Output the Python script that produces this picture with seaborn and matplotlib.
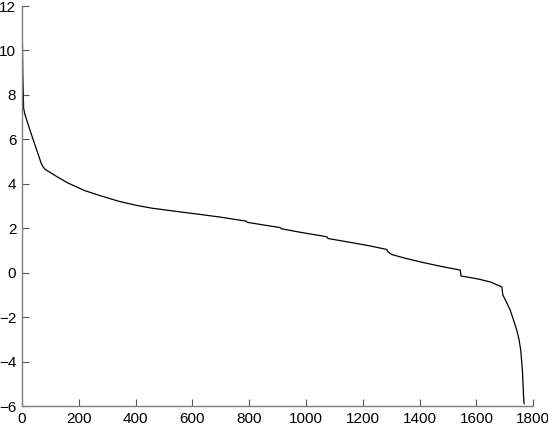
import numpy as np
import pandas as pd
import matplotlib
matplotlib.use("Agg")
import matplotlib.pyplot as plt
import seaborn as sns

# values (sorted curve)
rank = [0, 1, 3, 6, 10, 30, 50, 68, 75, 82, 95, 120, 160, 220, 280, 340, 400, 460, 520,
        580, 630, 700, 790, 793, 850, 910, 913, 980, 1073, 1078, 1150, 1220, 1284,
        1288, 1302, 1350, 1402, 1470, 1543, 1546, 1580, 1613, 1650, 1690, 1693,
        1705, 1719, 1730, 1742, 1750, 1756, 1762, 1766, 1768]
value = [11.4, 11.0, 9.0, 7.4, 7.15, 6.35, 5.6, 4.92, 4.75, 4.65, 4.55, 4.35, 4.05,
         3.7, 3.45, 3.22, 3.04, 2.9, 2.8, 2.7, 2.62, 2.5, 2.32, 2.27, 2.15, 2.03,
         1.98, 1.82, 1.62, 1.54, 1.38, 1.22, 1.05, 0.95, 0.82, 0.65, 0.49, 0.3,
         0.12, -0.15, -0.22, -0.3, -0.42, -0.64, -1.0, -1.3, -1.68, -2.1, -2.58,
         -3.0, -3.48, -4.38, -5.55, -5.9]
xticks = list(range(0, 1801, 200))
yticks = list(range(-6, 13, 2))

df = pd.DataFrame({"rank": rank, "value": value})

sns.set_style("white")
plt.rcParams["font.family"] = ["Liberation Sans", "DejaVu Sans"]

fig = plt.figure(figsize=(5.48, 4.32), dpi=100)
ax = fig.add_axes([0.040, 0.060, 0.933, 0.926])
sns.lineplot(data=df, x="rank", y="value", color="black", linewidth=0.9,
             estimator=None, ax=ax)

ax.set_xlim(0, 1800)
ax.set_ylim(-6, 12)
ax.set_xticks(xticks)
ax.set_yticks(yticks)
ax.set_xlabel("")
ax.set_ylabel("")
sns.despine(ax=ax)
for s in ["left", "bottom"]:
    ax.spines[s].set_color("#7f7f7f")
    ax.spines[s].set_linewidth(1.0)
ax.tick_params(bottom=True, left=True, direction="in", length=5, width=0.8,
               color="#555555", labelsize=11, labelcolor="black", pad=4)

fig.savefig("out.png", dpi=100)
